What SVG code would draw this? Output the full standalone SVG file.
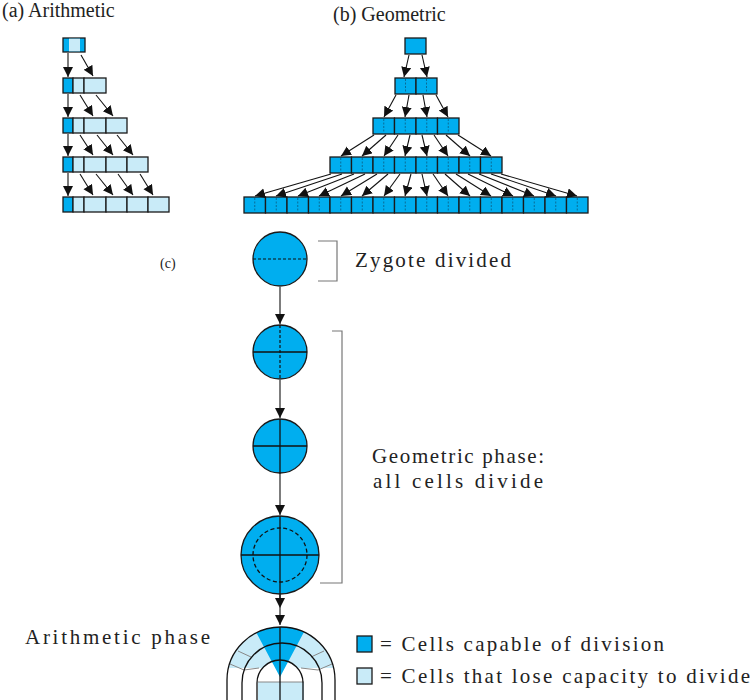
<svg xmlns="http://www.w3.org/2000/svg" width="751" height="700" viewBox="0 0 751 700">
<style>
.d{fill:#00aeef;stroke:#1a1a1a;stroke-width:1.3}
.l{fill:#c9ebf8;stroke:#1a1a1a;stroke-width:1.3}
.a{stroke:#111;stroke-width:1.1;fill:none;marker-end:url(#ah)}
.dm{stroke:#0a5a80;stroke-width:0.8;stroke-dasharray:2,1.5}
.t{font-family:"Liberation Serif","DejaVu Serif",serif;fill:#222}
.k{stroke:#111;stroke-width:1.3;fill:none}
.g{stroke:#888;stroke-width:1;fill:none}
</style>
<defs>
<marker id="ah" markerUnits="userSpaceOnUse" markerWidth="12" markerHeight="12" refX="10" refY="5" orient="auto"><path d="M0,0 L10,5 L0,10 Z" fill="#111"/></marker>
<clipPath id="outer"><path d="M227,700 L227,680 A54,53 0 0 1 335,680 L335,700 Z"/></clipPath>
</defs>
<g id="labels">
<text class="t" x="2" y="17" font-size="20">(a) Arithmetic</text>
<text class="t" x="333" y="21" font-size="20">(b) Geometric</text>
<text class="t" x="160" y="268" font-size="14">(c)</text>
<text class="t" x="355" y="267" font-size="21" textLength="156">Zygote divided</text>
<text class="t" x="458" y="463" font-size="21" text-anchor="middle" textLength="172">Geometric phase:</text>
<text class="t" x="458" y="488" font-size="21" text-anchor="middle" textLength="170">all cells divide</text>
<text class="t" x="25" y="644" font-size="21" textLength="185">Arithmetic phase</text>
</g>
<g id="arith">
<rect class="d" x="63" y="38" width="22" height="14"/><rect x="69" y="38.7" width="11" height="12.6" fill="#c9ebf8"/>
<g id="arow2"><rect class="d" x="63" y="78" width="10" height="15"/><rect class="l" x="73" y="78" width="11" height="15"/><rect class="l" x="84" y="78" width="22" height="15"/></g>
<g id="arow3"><rect class="d" x="63" y="118" width="10" height="15"/><rect class="l" x="73" y="118" width="11" height="15"/><rect class="l" x="84" y="118" width="22" height="15"/><rect class="l" x="106" y="118" width="21" height="15"/></g>
<g id="arow4"><rect class="d" x="63" y="157" width="10" height="15"/><rect class="l" x="73" y="157" width="11" height="15"/><rect class="l" x="84" y="157" width="22" height="15"/><rect class="l" x="106" y="157" width="21" height="15"/><rect class="l" x="127" y="157" width="21" height="15"/></g>
<g id="arow5"><rect class="d" x="63" y="197" width="10" height="15"/><rect class="l" x="73" y="197" width="11" height="15"/><rect class="l" x="84" y="197" width="22" height="15"/><rect class="l" x="106" y="197" width="21" height="15"/><rect class="l" x="127" y="197" width="21" height="15"/><rect class="l" x="148" y="197" width="21" height="15"/></g>
</g>
<g id="geo">
<rect class="d" x="405" y="38" width="21" height="16"/>
<g id="grow2"><rect class="d" x="395" y="78" width="21" height="16"/><rect class="d" x="416" y="78" width="21" height="16"/><line class="dm" x1="405.5" y1="79" x2="405.5" y2="93"/><line class="dm" x1="426.5" y1="79" x2="426.5" y2="93"/></g>
<g id="grow3"></g>
<g id="grow4"></g>
<g id="grow5"></g>
</g>
<g id="connectors">
<line class="a" x1="68" y1="53" x2="68" y2="77"/>
<line class="a" x1="68" y1="94" x2="68" y2="117"/>
<line class="a" x1="68" y1="134" x2="68" y2="156"/>
<line class="a" x1="68" y1="173" x2="68" y2="196"/>
<line class="a" x1="81" y1="55" x2="93" y2="76"/>
<line class="a" x1="80" y1="95" x2="93" y2="116"/><line class="a" x1="96" y1="95" x2="113" y2="116"/>
<line class="a" x1="80" y1="135" x2="93" y2="155"/><line class="a" x1="97" y1="135" x2="113" y2="155"/><line class="a" x1="117" y1="135" x2="133" y2="155"/>
<line class="a" x1="80" y1="174" x2="93" y2="195"/><line class="a" x1="96" y1="174" x2="113" y2="195"/><line class="a" x1="118" y1="174" x2="133" y2="195"/><line class="a" x1="140" y1="174" x2="153" y2="195"/>
<line class="a" x1="409" y1="55" x2="404" y2="77"/><line class="a" x1="422" y1="55" x2="427" y2="77"/>
<g id="gc"></g>
<line class="a" x1="280" y1="287" x2="280" y2="324"/>
<line class="a" x1="280" y1="380" x2="280" y2="418"/>
<line class="a" x1="280" y1="474" x2="280" y2="515"/>
<line class="a" x1="280" y1="595" x2="280" y2="608"/>
<line class="a" x1="280" y1="608" x2="280" y2="625"/>
</g>
<g id="zygote"><circle class="d" cx="280" cy="259" r="27"/><line x1="253" y1="259" x2="307" y2="259" stroke="#111" stroke-width="1.2" stroke-dasharray="3,2"/></g>
<g id="c2"><circle class="d" cx="280" cy="352" r="27"/><line class="k" x1="253" y1="352" x2="307" y2="352"/><line x1="280" y1="325" x2="280" y2="380" stroke="#111" stroke-width="1.2" stroke-dasharray="3,2"/></g>
<g id="c3"><circle class="d" cx="280" cy="446" r="27"/><line class="k" x1="253" y1="446" x2="307" y2="446"/><line class="k" x1="280" y1="419" x2="280" y2="474"/></g>
<g id="c4"><circle class="d" cx="280" cy="555" r="39"/><circle cx="280" cy="555" r="27" fill="none" stroke="#111" stroke-width="1.3" stroke-dasharray="4,2.5"/><line class="k" x1="241" y1="555" x2="319" y2="555"/><line class="k" x1="280" y1="516" x2="280" y2="598"/></g>
<g id="brackets">
<path d="M318,241 H337 V281 H318" fill="none" stroke="#777" stroke-width="1.2"/>
<path d="M332,331 H342 V583 H320" fill="none" stroke="#777" stroke-width="1.2"/>
</g>
<g id="arch">
<g clip-path="url(#outer)">
<rect x="220" y="620" width="130" height="48" fill="#c9ebf8"/>
<path d="M257,700 L257,683 A23,23 0 0 1 303,683 L303,700 Z" fill="#fff"/>
<rect x="258" y="682" width="46" height="18" fill="#c9ebf8"/>
<path d="M280,677 L240,602 L320,602 Z" fill="#00aeef"/>
</g>
<line class="g" x1="258" y1="682" x2="304" y2="682"/>
<line class="g" x1="230" y1="664" x2="244" y2="670"/><line class="g" x1="244" y1="670" x2="259" y2="668"/>
<line class="g" x1="332" y1="664" x2="318" y2="670"/><line class="g" x1="318" y1="670" x2="301" y2="668"/>
<line class="g" x1="238" y1="651" x2="251" y2="657"/><line class="g" x1="324" y1="651" x2="311" y2="657"/>
<path class="k" d="M227,700 L227,680 A54,53 0 0 1 335,680 L335,700"/>
<path class="k" d="M242,700 L242,683 A40,40 0 0 1 322,683 L322,700"/>
<path class="k" d="M257,700 L257,683 A23,23 0 0 1 303,683 L303,700"/>
<line class="k" x1="280" y1="627" x2="280" y2="700"/>
</g>
<g id="legend">
<rect class="d" x="357" y="636" width="15" height="16"/>
<text class="t" x="380" y="651" font-size="21" textLength="284">= Cells capable of division</text>
<rect class="l" x="357" y="668" width="15" height="16"/>
<text class="t" x="380" y="683" font-size="21" textLength="370">= Cells that lose capacity to divide</text>
</g>
<g id="geo2">
<rect class="d" x="373" y="118" width="21.5" height="16"/><rect class="d" x="394.5" y="118" width="21.5" height="16"/><rect class="d" x="416" y="118" width="21.5" height="16"/><rect class="d" x="437.5" y="118" width="21.5" height="16"/>
<path class="dm" d="M383.75,119v14M405.25,119v14M426.75,119v14M448.25,119v14"/>
<rect class="d" x="330" y="157" width="21.5" height="16"/><rect class="d" x="351.5" y="157" width="21.5" height="16"/><rect class="d" x="373" y="157" width="21.5" height="16"/><rect class="d" x="394.5" y="157" width="21.5" height="16"/><rect class="d" x="416" y="157" width="21.5" height="16"/><rect class="d" x="437.5" y="157" width="21.5" height="16"/><rect class="d" x="459" y="157" width="21.5" height="16"/><rect class="d" x="480.5" y="157" width="21.5" height="16"/>
<path class="dm" d="M340.75,158v14M362.25,158v14M383.75,158v14M405.25,158v14M426.75,158v14M448.25,158v14M469.75,158v14M491.25,158v14"/>
<rect class="d" x="244" y="197" width="21.5" height="16"/><rect class="d" x="265.5" y="197" width="21.5" height="16"/><rect class="d" x="287" y="197" width="21.5" height="16"/><rect class="d" x="308.5" y="197" width="21.5" height="16"/><rect class="d" x="330" y="197" width="21.5" height="16"/><rect class="d" x="351.5" y="197" width="21.5" height="16"/><rect class="d" x="373" y="197" width="21.5" height="16"/><rect class="d" x="394.5" y="197" width="21.5" height="16"/><rect class="d" x="416" y="197" width="21.5" height="16"/><rect class="d" x="437.5" y="197" width="21.5" height="16"/><rect class="d" x="459" y="197" width="21.5" height="16"/><rect class="d" x="480.5" y="197" width="21.5" height="16"/><rect class="d" x="502" y="197" width="21.5" height="16"/><rect class="d" x="523.5" y="197" width="21.5" height="16"/><rect class="d" x="545" y="197" width="21.5" height="16"/><rect class="d" x="566.5" y="197" width="21.5" height="16"/>
<path class="dm" d="M254.75,198v14M276.25,198v14M297.75,198v14M319.25,198v14M340.75,198v14M362.25,198v14M383.75,198v14M405.25,198v14M426.75,198v14M448.25,198v14M469.75,198v14M491.25,198v14M512.75,198v14M534.25,198v14M555.75,198v14M577.25,198v14"/>
</g>
<g id="geoarrows">
<line class="a" x1="396" y1="95" x2="384" y2="117"/><line class="a" x1="409" y1="95" x2="405" y2="117"/><line class="a" x1="423" y1="95" x2="427" y2="117"/><line class="a" x1="436" y1="95" x2="448" y2="117"/>
<line class="a" x1="374" y1="135" x2="341" y2="156"/><line class="a" x1="386" y1="135" x2="362" y2="156"/><line class="a" x1="398" y1="135" x2="384" y2="156"/><line class="a" x1="410" y1="135" x2="405" y2="156"/><line class="a" x1="422" y1="135" x2="427" y2="156"/><line class="a" x1="434" y1="135" x2="448" y2="156"/><line class="a" x1="446" y1="135" x2="470" y2="156"/><line class="a" x1="458" y1="135" x2="491" y2="156"/>
<line class="a" x1="331" y1="174" x2="255" y2="196"/><line class="a" x1="342" y1="174" x2="276" y2="196"/><line class="a" x1="354" y1="174" x2="298" y2="196"/><line class="a" x1="365" y1="174" x2="319" y2="196"/><line class="a" x1="377" y1="174" x2="341" y2="196"/><line class="a" x1="388" y1="174" x2="362" y2="196"/><line class="a" x1="400" y1="174" x2="384" y2="196"/><line class="a" x1="411" y1="174" x2="405" y2="196"/><line class="a" x1="422" y1="174" x2="427" y2="196"/><line class="a" x1="433" y1="174" x2="448" y2="196"/><line class="a" x1="445" y1="174" x2="470" y2="196"/><line class="a" x1="456" y1="174" x2="491" y2="196"/><line class="a" x1="468" y1="174" x2="513" y2="196"/><line class="a" x1="479" y1="174" x2="534" y2="196"/><line class="a" x1="491" y1="174" x2="556" y2="196"/><line class="a" x1="501" y1="174" x2="577" y2="196"/>
</g>
</svg>
